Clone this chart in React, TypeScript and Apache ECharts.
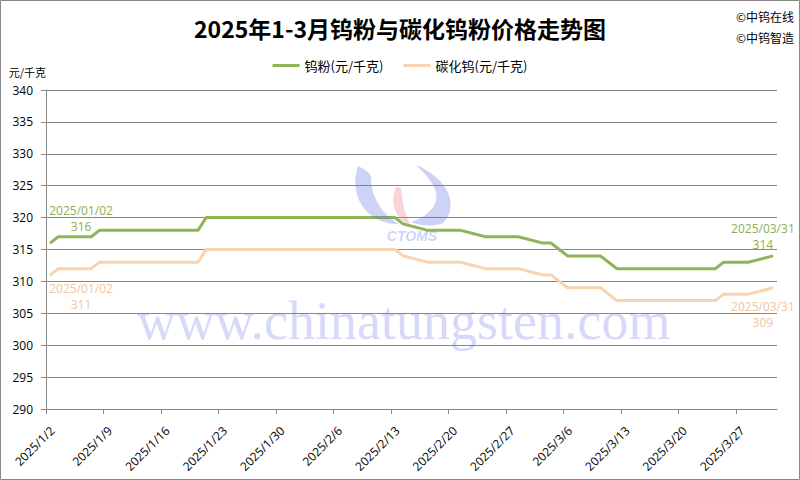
import React, { useEffect, useRef } from "react";
import * as echarts from "echarts";

const TITLE = "2025年1-3月钨粉与碳化钨粉价格走势图";
const SERIES_NAMES = ["钨粉(元/千克)", "碳化钨(元/千克)"];
const Y_NAME = "元/千克";

const dates = [
  "2025-01-02", "2025-01-03", "2025-01-06", "2025-01-07", "2025-01-08", "2025-01-09", "2025-01-10",
  "2025-01-13", "2025-01-14", "2025-01-15", "2025-01-16", "2025-01-17",
  "2025-01-20", "2025-01-21", "2025-01-22", "2025-01-23", "2025-01-24",
  "2025-01-27",
  "2025-02-05", "2025-02-06", "2025-02-07",
  "2025-02-10", "2025-02-11", "2025-02-12", "2025-02-13", "2025-02-14",
  "2025-02-17", "2025-02-18", "2025-02-19", "2025-02-20", "2025-02-21",
  "2025-02-24", "2025-02-25", "2025-02-26", "2025-02-27", "2025-02-28",
  "2025-03-03", "2025-03-04", "2025-03-05", "2025-03-06", "2025-03-07",
  "2025-03-10", "2025-03-11", "2025-03-12", "2025-03-13", "2025-03-14",
  "2025-03-17", "2025-03-18", "2025-03-19", "2025-03-20", "2025-03-21",
  "2025-03-24", "2025-03-25", "2025-03-26", "2025-03-27", "2025-03-28",
  "2025-03-31",
];

const tungstenPowder = [
  316, 317, 317, 317, 318, 318, 318,
  318, 318, 318, 318, 318,
  318, 320, 320, 320, 320,
  320,
  320, 320, 320,
  320, 320, 320, 320, 319,
  318, 318, 318, 318, 318,
  317, 317, 317, 317, 317,
  316, 316, 315, 314, 314,
  314, 313, 312, 312, 312,
  312, 312, 312, 312, 312,
  312, 313, 313, 313, 313,
  314,
];

const tungstenCarbide = [
  311, 312, 312, 312, 313, 313, 313,
  313, 313, 313, 313, 313,
  313, 315, 315, 315, 315,
  315,
  315, 315, 315,
  315, 315, 315, 315, 314,
  313, 313, 313, 313, 313,
  312, 312, 312, 312, 312,
  311, 311, 310, 309, 309,
  309, 308, 307, 307, 307,
  307, 307, 307, 307, 307,
  307, 308, 308, 308, 308,
  309,
];

const xTickLabels = [
  "2025/1/2", "2025/1/9", "2025/1/16", "2025/1/23", "2025/1/30", "2025/2/6", "2025/2/13",
  "2025/2/20", "2025/2/27", "2025/3/6", "2025/3/13", "2025/3/20", "2025/3/27",
];

const AXIS_START = "2025-01-02";
const AXIS_END = "2025-04-01";
const Y_MIN = 290;
const Y_MAX = 340;
const Y_STEP = 5;

const GREEN = "#8FB457";
const ORANGE = "#F9D3B0";
const GREEN_TEXT = "#8BAE55";
const ORANGE_TEXT = "#F2C39A";

function dayIndex(s: string): number {
  const p = s.split(/[-/]/).map(Number);
  const a = AXIS_START.split("-").map(Number);
  return (Date.UTC(p[0], p[1] - 1, p[2]) - Date.UTC(a[0], a[1] - 1, a[2])) / 86400000;
}

function fmtDate(s: string): string {
  return s.replace(/-/g, "/");
}

function buildData(values: number[], color: string, first: any, last: any) {
  return values.map((v, i) => {
    const item: any = { value: [dayIndex(dates[i]) + 0.5, v] };
    const lab = i === 0 ? first : i === values.length - 1 ? last : null;
    if (lab) {
      item.label = {
        show: true,
        position: lab.position,
        offset: lab.offset,
        color,
        fontSize: 12,
        lineHeight: 16,
        align: "center",
        fontFamily: "'Open Sans', 'Noto Sans', sans-serif",
        formatter: fmtDate(dates[i]) + "\n" + v,
      };
    }
    return item;
  });
}

const LOGO_LEFT = "M358,166 C348,196 366,224 399,224 C382,214 371,198 371,176 C368,171 362,168 358,166 Z";
const LOGO_MID = "M396,187 C389,204 396,220 410,224 C404,212 402,200 401,188 Z";
const LOGO_RIGHT = "M416,165 C448,178 460,206 443,223 C433,227 420,226 411,222 C433,215 443,199 432,184 C428,176 421,170 416,165 Z";

echarts.graphic.registerShape("logoLeft", echarts.graphic.extendPath(LOGO_LEFT, {}));
echarts.graphic.registerShape("logoMid", echarts.graphic.extendPath(LOGO_MID, {}));
echarts.graphic.registerShape("logoRight", echarts.graphic.extendPath(LOGO_RIGHT, {}));

export default function App() {
  const ref = useRef<HTMLDivElement>(null);
  useEffect(() => {
    if (!ref.current) return;
    const chart = echarts.init(ref.current, null, { renderer: "svg" });
    const tickDays = xTickLabels.map((l) => dayIndex(l));
    const xMax = dayIndex(AXIS_END);
    const axisGray = "#888888";
    const option: any = {
      animation: false,
      backgroundColor: "#ffffff",
      title: {
        text: TITLE,
        left: "center",
        top: 11,
        textStyle: {
          fontSize: 23,
          fontWeight: "bold",
          color: "#000",
          fontFamily: "'Noto Sans CJK SC', sans-serif",
        },
      },
      legend: {
        top: 54,
        left: "center",
        itemWidth: 27,
        itemHeight: 3,
        itemGap: 20,
        icon: "rect",
        textStyle: {
          fontSize: 13,
          color: "#000",
          fontFamily: "'Noto Sans CJK SC', sans-serif",
        },
        data: SERIES_NAMES,
      },
      grid: {
        left: 46,
        right: 23,
        top: 90,
        bottom: 71,
        containLabel: false,
        outerBoundsMode: "none",
      },
      xAxis: {
        type: "value",
        min: 0,
        max: xMax,
        interval: 7,
        splitLine: { show: false },
        axisLine: { show: true, lineStyle: { color: axisGray, width: 1 } },
        axisTick: { show: true, length: 5, lineStyle: { color: axisGray }, customValues: tickDays },
        axisLabel: {
          rotate: 45,
          fontSize: 12,
          lineHeight: 18,
          color: "#000",
          margin: 13,
          fontFamily: "'Open Sans', 'Noto Sans', sans-serif",
          customValues: tickDays,
          formatter: (v: number) => {
            const k = tickDays.indexOf(v);
            return k >= 0 ? " \n" + xTickLabels[k] : "";
          },
        },
      },
      yAxis: {
        type: "value",
        min: Y_MIN,
        max: Y_MAX,
        interval: Y_STEP,
        name: Y_NAME,
        nameLocation: "end",
        nameGap: 13,
        nameTextStyle: {
          align: "right",
          fontSize: 11,
          color: "#000",
          fontFamily: "'Noto Sans CJK SC', sans-serif",
        },
        axisLine: { show: true, lineStyle: { color: axisGray, width: 1 } },
        axisTick: { show: true, length: 5, lineStyle: { color: axisGray } },
        axisLabel: {
          fontSize: 12,
          color: "#000",
          margin: 13,
          fontFamily: "'Open Sans', 'Noto Sans', sans-serif",
        },
        splitLine: { show: true, lineStyle: { color: axisGray, width: 1 } },
      },
      graphic: [
        {
          type: "rect",
          silent: true,
          z: -10,
          shape: { x: 0.5, y: 0.5, width: 799, height: 479 },
          style: { fill: "none", stroke: "#8a8a8a", lineWidth: 1 },
        },
        {
          type: "text",
          x: 736,
          y: 16,
          style: {
            text: "©中钨在线",
            fontSize: 12,
            fill: "#000",
            verticalAlign: "middle",
            fontFamily: "'Noto Sans CJK SC', sans-serif",
          },
        },
        {
          type: "text",
          x: 736,
          y: 37,
          style: {
            text: "©中钨智造",
            fontSize: 12,
            fill: "#000",
            verticalAlign: "middle",
            fontFamily: "'Noto Sans CJK SC', sans-serif",
          },
        },
        {
          type: "logoLeft",
          silent: true,
          z: 100,
          style: { fill: "rgba(90,105,230,0.3)" },
        },
        {
          type: "logoMid",
          silent: true,
          z: 100,
          style: { fill: "rgba(235,110,120,0.3)" },
        },
        {
          type: "logoRight",
          silent: true,
          z: 100,
          style: { fill: "rgba(90,105,230,0.3)" },
        },
        {
          type: "text",
          silent: true,
          z: 100,
          x: 412,
          y: 236,
          style: {
            text: "CTOMS",
            fontSize: 14,
            fontWeight: "bold",
            fontStyle: "italic",
            fill: "rgba(90,105,230,0.3)",
            align: "center",
            verticalAlign: "middle",
            fontFamily: "'Liberation Sans', sans-serif",
          },
        },
        {
          type: "text",
          silent: true,
          z: 100,
          x: 137,
          y: 294,
          style: {
            text: "www.chinatungsten.com",
            fontSize: 54,
            fill: "rgba(90,105,230,0.25)",
            verticalAlign: "alphabetic",
            fontFamily: "'Liberation Serif', 'DejaVu Serif', serif",
          },
        },
      ],
      series: [
        {
          name: SERIES_NAMES[0],
          type: "line",
          data: buildData(tungstenPowder, GREEN_TEXT,
            { position: "top", offset: [31, -3] },
            { position: "top", offset: [-10, 2] }),
          symbol: "circle",
          symbolSize: 1,
          showSymbol: true,
          itemStyle: { color: GREEN },
          lineStyle: { color: GREEN, width: 3 },
          z: 3,
        },
        {
          name: SERIES_NAMES[1],
          type: "line",
          data: buildData(tungstenCarbide, ORANGE_TEXT,
            { position: "bottom", offset: [31, 0] },
            { position: "bottom", offset: [-10, 5] }),
          symbol: "circle",
          symbolSize: 1,
          showSymbol: true,
          itemStyle: { color: ORANGE },
          lineStyle: { color: ORANGE, width: 3 },
          z: 2,
        },
      ],
    };
    chart.setOption(option);
    return () => chart.dispose();
  }, []);
  return (
    <div
      ref={ref}
      style={{ position: "fixed", left: 0, top: 0, width: 800, height: 480, background: "#fff" }}
    />
  );
}
